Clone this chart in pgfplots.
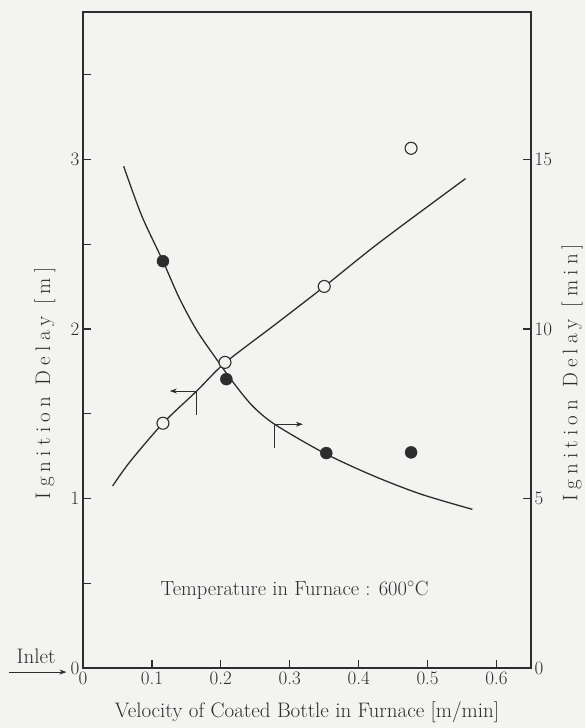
\documentclass[border=0pt]{standalone}
\usepackage{fontspec}
\usepackage{pgfplots}
\pgfplotsset{compat=1.18}
\usetikzlibrary{arrows.meta,calc,backgrounds}
\newfontfamily\wide[LetterSpace=25]{Latin Modern Roman}
\definecolor{ink}{RGB}{45,45,45}
\definecolor{paper}{RGB}{243,243,241}
\begin{document}
\begin{tikzpicture}
\pgfplotsset{delaystyle/.style={
    scale only axis, width=448pt, height=656pt,
    xmin=0, xmax=0.65, ymin=0,
    tick align=inside, major tick length=8pt,
    axis line style={ink,line width=1.5pt},
    tick style={ink,line width=1.2pt},
    /pgf/number format/assume math mode=true,
    tick label style={font=\fontsize{19}{19}\selectfont, text=ink},
    label style={font=\fontsize{21}{24}\selectfont, text=ink}}}
% right axis: ignition delay in minutes (filled dots)
\begin{axis}[delaystyle, ymax=19.35,
    axis x line=none, axis y line*=right,
    ytick={0,5,10,15},
    ylabel={\wide Ignition Delay [min]},
    ylabel style={at={(rel axis cs:1,0.45)}, anchor=center, yshift=-41pt}]
  \addplot[ink, line width=1.3pt, smooth] coordinates {
    (0.059,14.8) (0.085,13.35) (0.116,12.0) (0.14,10.9) (0.165,9.96)
    (0.194,9.1) (0.217,8.45) (0.245,7.75) (0.278,7.19) (0.35,6.34)
    (0.42,5.68) (0.49,5.13) (0.565,4.68)};
  \addplot[only marks, mark=*, mark size=6pt, ink] coordinates {
    (0.116,12.0) (0.208,8.52) (0.353,6.34) (0.476,6.36)};
\end{axis}
% left axis: ignition delay in metres (open circles)
\begin{axis}[delaystyle, name=ax, ymax=3.87, clip=false,
    xtick pos=bottom, ytick pos=left,
    xtick={0,0.1,0.2,0.3,0.4,0.5,0.6},
    xticklabels={0,0.1,0.2,0.3,0.4,0.5,0.6},
    ytick={0,0.5,1,1.5,2,2.5,3,3.5},
    yticklabels={0,,1,,2,,3,},
    xlabel={Velocity of Coated Bottle in Furnace [m/min]},
    xlabel style={at={(rel axis cs:0.5,0)}, anchor=center, yshift=-44pt},
    ylabel={\wide Ignition Delay [m]},
    ylabel style={at={(rel axis cs:0,0.434)}, anchor=center, yshift=38pt}]
  \addplot[ink, line width=1.3pt, smooth] coordinates {
    (0.043,1.074) (0.068,1.216) (0.116,1.444) (0.165,1.634) (0.206,1.80)
    (0.28,2.03) (0.35,2.25) (0.43,2.51) (0.555,2.887)};
  \addplot[only marks, mark=*, mark size=6pt, draw=ink, fill=paper, line width=1.1pt] coordinates {
    (0.116,1.444) (0.206,1.803) (0.35,2.251) (0.476,3.066)};
  % axis pointers
  \draw[ink, line width=0.9pt, -{Stealth[length=7pt,width=5pt]}] (axis cs:0.165,1.634) -- (axis cs:0.126,1.634);
  \draw[ink, line width=0.9pt] (axis cs:0.165,1.634) -- (axis cs:0.165,1.49);
  \draw[ink, line width=0.9pt, -{Stealth[length=7pt,width=5pt]}] (axis cs:0.278,1.438) -- (axis cs:0.319,1.438);
  \draw[ink, line width=0.9pt] (axis cs:0.278,1.438) -- (axis cs:0.278,1.30);
  \node[text=ink, font=\fontsize{20.5}{22}\selectfont] at (axis cs:0.307,0.46) {Temperature in Furnace : 600$^\circ$C};
  \node[text=ink, font=\fontsize{21}{22}\selectfont] at (axis cs:-0.068,0.07) {Inlet};
  \draw[ink, line width=0.9pt, -{Stealth[length=7pt,width=5pt]}] (axis cs:-0.108,-0.024) -- (axis cs:-0.024,-0.024);
\end{axis}
\path ($(ax.south west)+(-83pt,-60pt)$) rectangle ($(ax.north east)+(54pt,12pt)$);
\begin{pgfonlayer}{background}
  \fill[paper] ($(ax.south west)+(-83pt,-60pt)$) rectangle ($(ax.north east)+(54pt,12pt)$);
\end{pgfonlayer}
\end{tikzpicture}
\end{document}
